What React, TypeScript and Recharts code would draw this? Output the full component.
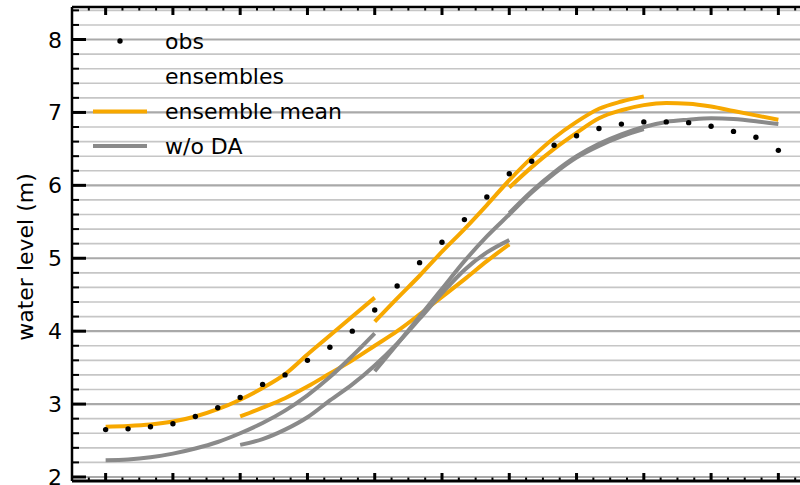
import React from "react";
import { LineChart, Line, XAxis, YAxis, CartesianGrid, Legend, Label } from "recharts";

// time index (obs every step, 3 steps per major tick)
const STEPS = [0, 1, 2, 3, 4, 5, 6, 7, 8, 9, 10, 11, 12, 13, 14, 15, 16, 17, 18, 19, 20, 21, 22, 23, 24, 25, 26, 27, 28, 29, 30];

const OBS = [
  2.65, 2.66, 2.69, 2.73, 2.83, 2.95, 3.09, 3.27, 3.40, 3.60, 3.78, 4.00, 4.29, 4.62, 4.94, 5.22,
  5.53, 5.84, 6.16, 6.33, 6.55, 6.68, 6.78, 6.84, 6.87, 6.87, 6.86, 6.81, 6.74, 6.66, 6.48,
];

// forecast windows start at these steps, 13 points each
const WINDOW_STARTS = [0, 6, 12, 18];

const MEAN_A = [2.69, 2.70, 2.72, 2.76, 2.83, 2.93, 3.06, 3.22, 3.41, 3.68, 3.94, 4.20, 4.46];
const MEAN_B = [2.83, 2.95, 3.08, 3.24, 3.42, 3.60, 3.80, 4.00, 4.23, 4.47, 4.71, 4.96, 5.19];
const MEAN_C = [4.13, 4.45, 4.76, 5.09, 5.40, 5.73, 6.07, 6.38, 6.65, 6.87, 7.05, 7.15, 7.22];
const MEAN_D = [5.97, 6.25, 6.50, 6.72, 6.92, 7.03, 7.10, 7.13, 7.12, 7.08, 7.02, 6.96, 6.90];

const NODA_A = [2.23, 2.24, 2.27, 2.32, 2.39, 2.48, 2.60, 2.74, 2.91, 3.12, 3.37, 3.66, 3.97];
const NODA_B = [2.44, 2.52, 2.65, 2.82, 3.05, 3.27, 3.53, 3.83, 4.17, 4.52, 4.84, 5.08, 5.25];
const NODA_C = [3.45, 3.82, 4.20, 4.58, 4.96, 5.30, 5.60, 5.90, 6.16, 6.38, 6.54, 6.67, 6.77];
const NODA_D = [5.62, 5.92, 6.18, 6.40, 6.57, 6.70, 6.80, 6.87, 6.90, 6.92, 6.91, 6.88, 6.84];

const Y_TICKS = [
  2, 2.2, 2.4, 2.6, 2.8, 3, 3.2, 3.4, 3.6, 3.8, 4, 4.2, 4.4, 4.6, 4.8, 5, 5.2, 5.4, 5.6, 5.8,
  6, 6.2, 6.4, 6.6, 6.8, 7, 7.2, 7.4, 7.6, 7.8, 8, 8.2, 8.4,
];
const X_TICKS = [
  -0.75, 0, 0.75, 1.5, 2.25, 3, 3.75, 4.5, 5.25, 6, 6.75, 7.5, 8.25, 9, 9.75, 10.5, 11.25, 12,
  12.75, 13.5, 14.25, 15, 15.75, 16.5, 17.25, 18, 18.75, 19.5, 20.25, 21, 21.75, 22.5, 23.25,
  24, 24.75, 25.5, 26.25, 27, 27.75, 28.5, 29.25, 30, 30.75,
];
const LEGEND_ITEMS = ["obs", "ensembles", "ensemble mean", "w/o DA"];

const ORANGE = "#f7a800";
const GREY = "#8a8a8a";
const FONT = "DejaVu Sans";

const MEAN_KEYS = ["mA", "mB", "mC", "mD"];
const NODA_KEYS = ["gA", "gB", "gC", "gD"];
const MEANS = [MEAN_A, MEAN_B, MEAN_C, MEAN_D];
const NODAS = [NODA_A, NODA_B, NODA_C, NODA_D];

const isWhole = (v: number) => Math.abs(v - Math.round(v)) < 1e-6;
const MAJOR_Y = Y_TICKS.filter(isWhole);
const MINOR_Y = Y_TICKS.filter((v) => !isWhole(v));

const pick = (arr: number[], start: number, i: number) =>
  i >= start && i < start + arr.length ? arr[i - start] : null;

const data = STEPS.map((t, i) => {
  const row: Record<string, number | null> = { t, obs: OBS[i] };
  WINDOW_STARTS.forEach((s, k) => {
    row[MEAN_KEYS[k]] = pick(MEANS[k], s, i);
    row[NODA_KEYS[k]] = pick(NODAS[k], s, i);
  });
  return row;
});

function YTick(props: any) {
  const { x, y, payload } = props;
  const major = isWhole(payload.value);
  const ax = x + 10;
  return (
    <g>
      <line x1={ax} x2={ax + (major ? 14 : 7)} y1={y} y2={y} stroke="#000" strokeWidth={major ? 3 : 2} />
      {major && (
        <text x={x} y={y} dy={8} textAnchor="end" fontSize={22} fontFamily={FONT} fill="#000">
          {payload.value}
        </text>
      )}
    </g>
  );
}

function TopTick(props: any) {
  const { x, y, payload } = props;
  const major = isWhole(payload.value / 3);
  return <line x1={x} x2={x} y1={y} y2={y + (major ? 8 : 3.5)} stroke="#000" strokeWidth={major ? 3 : 2} />;
}

function BottomTick(props: any) {
  const { x, y, payload } = props;
  const major = isWhole(payload.value / 3);
  return <line x1={x} x2={x} y1={y} y2={y - (major ? 8 : 3.5)} stroke="#000" strokeWidth={major ? 3 : 2} />;
}

function YLabel() {
  return (
    <text
      x={33}
      y={257}
      transform="rotate(-90 33 257)"
      textAnchor="middle"
      fontSize={22}
      fontFamily={FONT}
      fill="#000"
    >
      water level (m)
    </text>
  );
}

function LegendBox() {
  const rowY = [41, 76, 111.5, 146];
  return (
    <svg width={360} height={165} style={{ overflow: "visible" }}>
      {LEGEND_ITEMS.map((name, i) => (
        <g key={name}>
          {i === 0 && <circle cx={120} cy={rowY[i]} r={2.7} fill="#000" />}
          {i === 2 && <line x1={93} x2={147} y1={rowY[i]} y2={rowY[i]} stroke={ORANGE} strokeWidth={4} />}
          {i === 3 && <line x1={93} x2={147} y1={rowY[i]} y2={rowY[i]} stroke={GREY} strokeWidth={4} />}
          <text x={165} y={rowY[i]} dy={7.5} fontSize={22} fontFamily={FONT} fill="#000">
            {name}
          </text>
        </g>
      ))}
    </svg>
  );
}

export default function App() {
  return (
    <div style={{ position: "fixed", left: 0, top: 0, width: 800, height: 485, overflow: "hidden", background: "#fff" }}>
      <LineChart width={812} height={485} data={data} margin={{ top: 6, right: 0, bottom: 3, left: 0 }}>
        <CartesianGrid vertical={false} horizontalValues={MINOR_Y} stroke="#c6c6c6" strokeWidth={1.6} />
        <CartesianGrid vertical={false} horizontalValues={MAJOR_Y} stroke="#a9a9a9" strokeWidth={2.2} />
        <XAxis
          dataKey="t"
          type="number"
          domain={[-1.5, 31.5]}
          allowDataOverflow
          ticks={X_TICKS}
          interval={0}
          height={1}
          tickSize={0}
          tickMargin={0}
          tick={<BottomTick />}
          axisLine={{ stroke: "#000", strokeWidth: 3 }}
        />
        <XAxis
          xAxisId="top"
          orientation="top"
          dataKey="t"
          type="number"
          domain={[-1.5, 31.5]}
          allowDataOverflow
          ticks={X_TICKS}
          interval={0}
          height={1}
          tickSize={0}
          tickMargin={0}
          tick={<TopTick />}
          axisLine={{ stroke: "#000", strokeWidth: 2.5 }}
        />
        <YAxis
          type="number"
          domain={[1.945, 8.446]}
          allowDataOverflow
          ticks={Y_TICKS}
          interval={0}
          width={72}
          tickSize={0}
          tickMargin={10}
          tick={<YTick />}
          axisLine={{ stroke: "#000", strokeWidth: 2.5 }}
        >
          <Label content={() => <YLabel />} />
        </YAxis>
        <Legend
          layout="vertical"
          align="center"
          verticalAlign="middle"
          wrapperStyle={{ left: 0, top: 0, width: 360, height: 165 }}
          content={() => <LegendBox />}
        />
        <Line
          dataKey="obs"
          stroke="none"
          dot={{ r: 2.7, fill: "#000", stroke: "none" }}
          activeDot={false}
          isAnimationActive={false}
        />
        {MEAN_KEYS.map((k) => (
          <Line
            key={k}
            dataKey={k}
            type="monotone"
            stroke={ORANGE}
            strokeWidth={4}
            dot={false}
            activeDot={false}
            isAnimationActive={false}
          />
        ))}
        {NODA_KEYS.map((k) => (
          <Line
            key={k}
            dataKey={k}
            type="monotone"
            stroke={GREY}
            strokeWidth={4}
            dot={false}
            activeDot={false}
            isAnimationActive={false}
          />
        ))}
      </LineChart>
    </div>
  );
}
